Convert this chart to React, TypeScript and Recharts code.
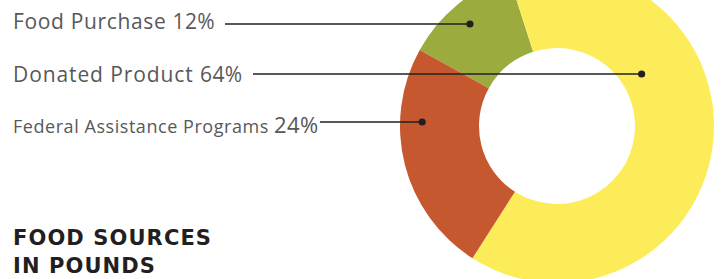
import { PieChart, Pie, Cell } from 'recharts'

const sources = ['Food Purchase', 'Donated Product', 'Federal Assistance Programs']
const shares = [12, 64, 24]
const sliceColors = ['#9bab3e', '#fdec5a', '#c5582f']

// leader layout: line height, where the line starts on the left, how deep into the ring the dot sits
const rowY = [24, 74, 122]
const lineStart = [225, 253, 320]
const ringPos = [0.71, 0.27, 0.72]
const baselineShift = [5, 8, 11]
const nameSize = [21, 21, 18]
const spacing = [0.65, 0.9, 0.55]

const data = sources.map((name, i) => ({ name, value: shares[i] }))

const font = '"Open Sans", Lato, sans-serif'

function renderLabel(props: any) {
  const { cx, cy, innerRadius, outerRadius, midAngle, index, value } = props
  const y = rowY[index]
  const r = innerRadius + (outerRadius - innerRadius) * ringPos[index]
  const side = Math.cos((midAngle * Math.PI) / 180) >= 0 ? 1 : -1
  const x = cx + side * Math.sqrt(Math.max(r * r - (y - cy) * (y - cy), 0))
  return (
    <g key={`lbl-${index}`}>
      <line x1={lineStart[index]} y1={y} x2={x} y2={y} stroke="#231f20" strokeWidth={1.6} />
      <circle cx={x} cy={y} r={3.6} fill="#231f20" />
      <text
        x={13}
        y={y + baselineShift[index]}
        fill="#58585a"
        fontFamily={font}
        letterSpacing={spacing[index]}
        textAnchor="start"
      >
        <tspan fontSize={nameSize[index]}>{sources[index]} </tspan>
        <tspan fontSize={index === 2 ? 22 : 21} letterSpacing={0.4}>{value}%</tspan>
      </text>
    </g>
  )
}

export default function App() {
  return (
    <div style={{ position: 'absolute', left: 0, top: 0, width: 725, height: 279, background: '#fff', overflow: 'hidden' }}>
      <PieChart width={725} height={279} margin={{ top: 0, right: 0, bottom: 0, left: 0 }}>
        <Pie
          data={data}
          dataKey="value"
          nameKey="name"
          cx={557}
          cy={126}
          innerRadius={78}
          outerRadius={157}
          startAngle={151}
          endAngle={-209}
          stroke="none"
          labelLine={false}
          label={renderLabel}
          isAnimationActive={false}
        >
          {data.map((d, i) => (
            <Cell key={d.name} fill={sliceColors[i]} />
          ))}
        </Pie>
      </PieChart>
      <svg width={260} height={60} style={{ position: 'absolute', left: 0, top: 219 }}>
        <text fontFamily='"DejaVu Sans", sans-serif' fontWeight={700} fontSize={21} letterSpacing={1.1} fill="#231f20">
          <tspan x={13} y={26}>FOOD SOURCES</tspan>
          <tspan x={13} y={54}>IN POUNDS</tspan>
        </text>
      </svg>
    </div>
  )
}
